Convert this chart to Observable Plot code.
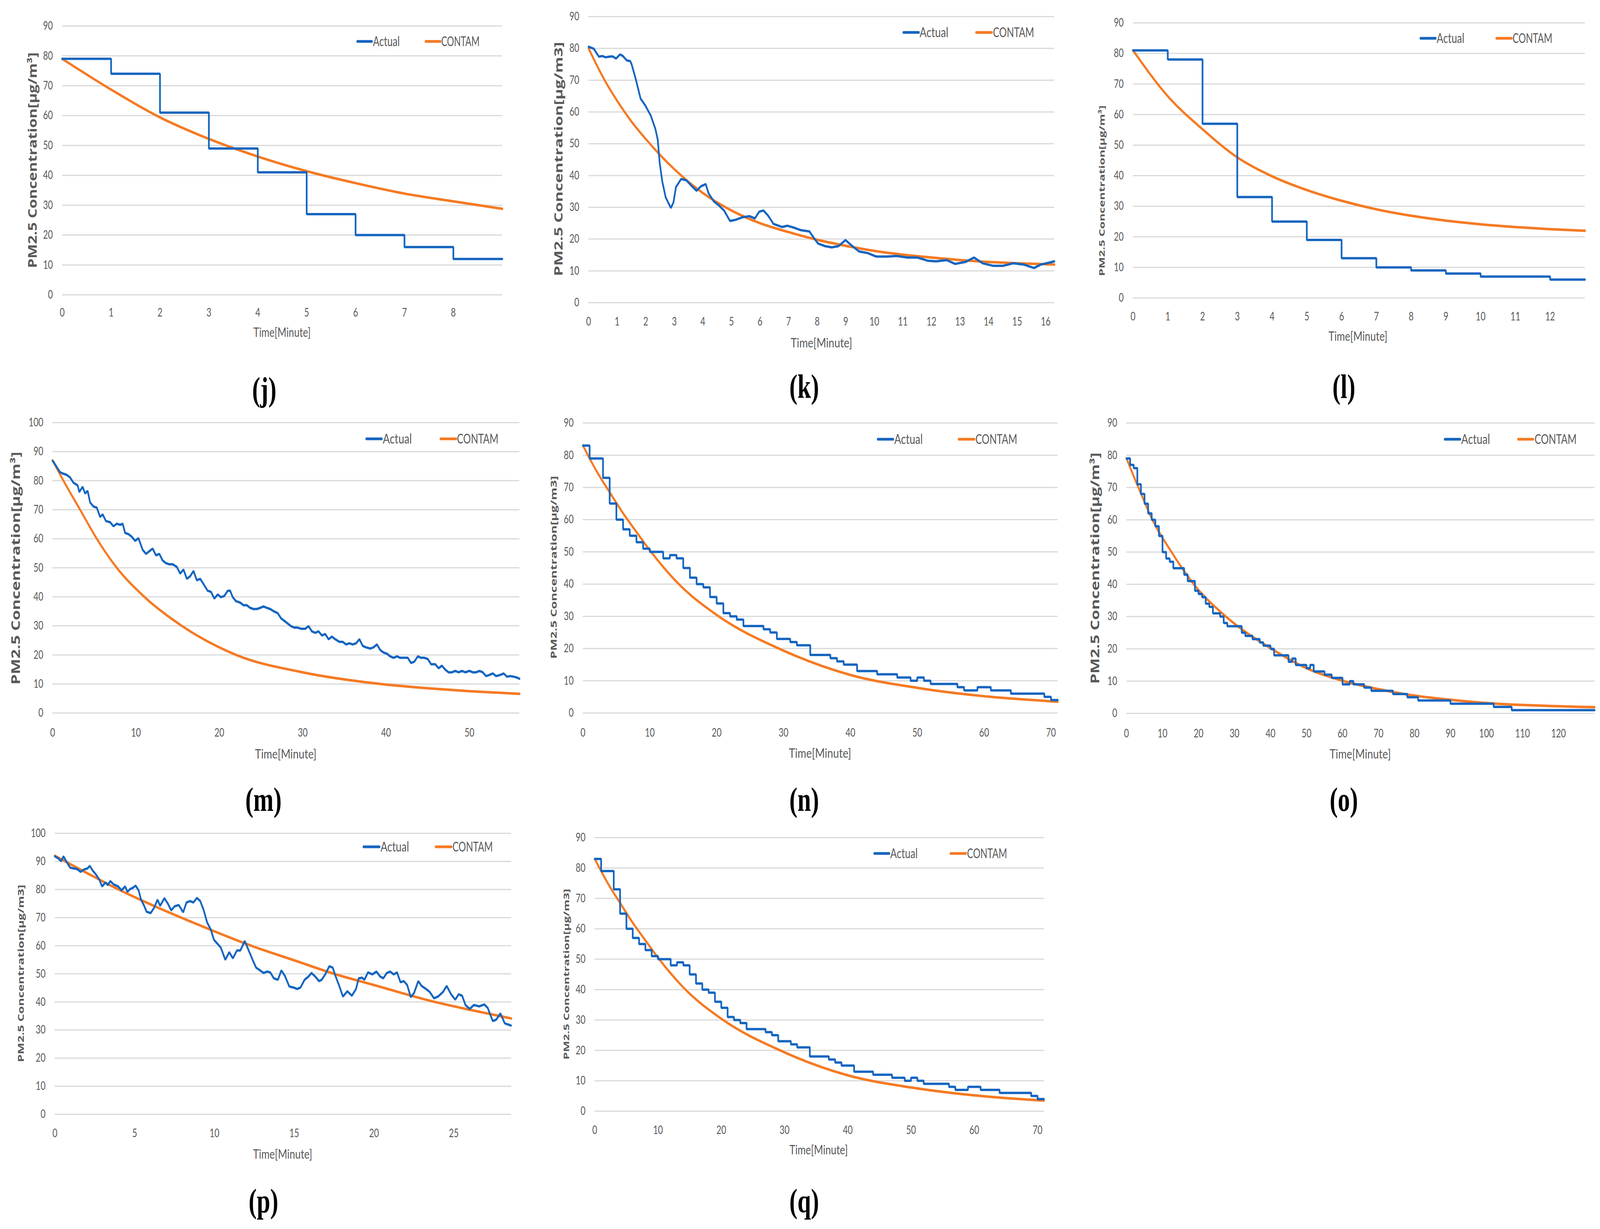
<!DOCTYPE html>
<html>
<head>
<meta charset="utf-8">
<script src="https://cdn.jsdelivr.net/npm/d3@7"></script>
<script src="https://cdn.jsdelivr.net/npm/@observablehq/plot@0.6"></script>
<style>
  html, body { margin: 0; padding: 0; background: #ffffff; overflow: hidden; }
  #page { position: relative; width: 5672px; height: 3145px; overflow: hidden; background: #ffffff; transform-origin: 0 0; }
  #page > svg.plot { position: absolute; }
  #overlay { position: absolute; left: 0; top: 0; pointer-events: none; }
</style>
</head>
<body>
<div id="page"></div>
<script>
// ---------------- DATA ----------------
const seriesNames = ["Actual", "CONTAM"];
const xTitle = "Time[Minute]";
const yTitleSup = "PM2.5 Concentration[μg/m³]";
const yTitlePlain = "PM2.5 Concentration[μg/m3]";
const panelLabels = ["(j)", "(k)", "(l)", "(m)", "(n)", "(o)", "(p)", "(q)"];

const yTicks90 = [0, 10, 20, 30, 40, 50, 60, 70, 80, 90];
const yTicks100 = [0, 10, 20, 30, 40, 50, 60, 70, 80, 90, 100];
const jXTicks = [0, 1, 2, 3, 4, 5, 6, 7, 8];
const kXTicks = [0, 1, 2, 3, 4, 5, 6, 7, 8, 9, 10, 11, 12, 13, 14, 15, 16];
const lXTicks = [0, 1, 2, 3, 4, 5, 6, 7, 8, 9, 10, 11, 12];
const mXTicks = [0, 10, 20, 30, 40, 50];
const nXTicks = [0, 10, 20, 30, 40, 50, 60, 70];
const oXTicks = [0, 10, 20, 30, 40, 50, 60, 70, 80, 90, 100, 110, 120];
const pXTicks = [0, 5, 10, 15, 20, 25];
const qXTicks = [0, 10, 20, 30, 40, 50, 60, 70];

// (j)
const jActual = [[0,79],[1,74],[2,61],[3,49],[4,41],[5,27],[6,20],[7,16],[8,12],[9,12]];
const jContam = [[0,79],[1,68.7],[2,59.4],[3,52.2],[4,46.3],[5,41.4],[6,37.4],[7,33.9],[8,31.3],[9,28.8]];
// (k)
const kActual = [[0,80.5],[0.18,79.9],[0.36,77.4],[0.48,77.6],[0.6,77.2],[0.72,77.4],[0.84,77.5],[0.96,76.8],[1.1,78.1],[1.2,77.6],[1.34,76.2],[1.46,76.0],[1.51,74.9],[1.65,70.4],[1.82,64.2],[1.98,62.1],[2.18,58.8],[2.34,54.6],[2.42,51.3],[2.49,43.9],[2.58,38.1],[2.7,33.1],[2.88,29.8],[2.97,31.5],[3.06,36.4],[3.24,38.9],[3.42,38.5],[3.6,36.8],[3.78,35.2],[3.93,36.6],[4.1,37.3],[4.2,34.4],[4.38,31.9],[4.56,30.6],[4.74,29.0],[4.95,25.7],[5.16,26.1],[5.4,26.9],[5.64,27.2],[5.82,26.5],[5.97,28.6],[6.12,29.0],[6.29,27.3],[6.47,24.8],[6.77,23.8],[6.95,24.2],[7.19,23.6],[7.43,22.8],[7.73,22.4],[7.89,20.3],[8.03,18.6],[8.27,17.8],[8.51,17.4],[8.75,17.8],[8.99,19.7],[9.23,17.8],[9.47,16.1],[9.77,15.6],[10.07,14.5],[10.43,14.5],[10.79,14.7],[11.15,14.2],[11.51,14.2],[11.87,13.2],[12.17,13.0],[12.53,13.4],[12.83,12.2],[13.19,12.8],[13.49,14.2],[13.79,12.4],[14.15,11.6],[14.51,11.6],[14.87,12.4],[15.23,12.0],[15.59,10.9],[15.83,12.0],[16.13,12.6],[16.3,13.0]];
const kContam = [[0,80],[0.5,71],[1,63.5],[1.5,57],[2,51.5],[2.5,46.5],[3,42],[3.5,38],[4,34.5],[5,29],[6,25],[7,22.2],[8,19.8],[9,17.9],[10,16.3],[11,15.1],[12,14.2],[13,13.4],[14,12.8],[15,12.4],[16.3,12]];
// (l)
const lActual = [[0,81],[1,78],[2,57],[3,33],[4,25],[5,19],[6,13],[7,10],[8,9],[9,8],[10,7],[12,6],[13,6]];
const lContam = [[0,81],[1,66],[2,55.2],[3,46],[4,39.8],[5,35.3],[6,31.8],[7,29],[8,26.9],[9,25.3],[10,24.1],[11,23.2],[12,22.5],[13,22]];
// (m)
const mActual = [[0,86.8],[0.1,86.5],[0.5,84.7],[0.9,82.9],[1.3,82.4],[1.7,82.0],[2.1,81.1],[2.5,79.3],[3.0,78.4],[3.2,76.1],[3.6,77.9],[3.9,75.6],[4.2,76.5],[4.5,72.5],[4.9,71.1],[5.3,70.7],[5.7,67.5],[6.0,68.4],[6.4,66.1],[6.9,65.7],[7.3,64.3],[7.7,65.2],[8.1,64.8],[8.4,65.2],[8.7,62.0],[9.1,61.6],[9.5,60.7],[9.9,59.3],[10.3,60.2],[10.8,56.2],[11.2,54.8],[11.6,55.7],[12.0,56.6],[12.4,54.3],[12.8,54.8],[13.2,52.5],[13.6,51.6],[14.0,51.2],[14.4,51.2],[14.9,50.3],[15.3,48.0],[15.7,49.4],[16.1,46.2],[16.5,47.1],[16.9,48.9],[17.3,45.7],[17.7,46.2],[18.1,44.4],[18.6,42.1],[19.0,41.7],[19.4,39.4],[19.8,40.8],[20.2,39.9],[20.6,40.3],[21.0,42.1],[21.3,42.1],[21.6,39.9],[22.0,38.5],[22.5,38.0],[22.9,37.1],[23.3,37.1],[23.7,36.2],[24.1,35.8],[24.5,35.8],[24.9,36.2],[25.3,36.7],[25.7,36.2],[26.1,35.8],[26.6,34.9],[27.0,34.4],[27.4,32.6],[27.8,31.7],[28.2,30.8],[28.6,29.9],[29.0,29.4],[29.4,29.4],[29.8,29.0],[30.3,29.0],[30.7,29.9],[31.1,28.1],[31.5,27.6],[31.9,28.1],[32.3,26.7],[32.7,27.2],[33.1,25.4],[33.5,26.3],[33.9,25.4],[34.4,24.5],[34.8,24.5],[35.2,23.6],[35.6,24.0],[36.0,23.6],[36.4,24.0],[36.8,25.4],[37.2,23.1],[37.6,22.6],[38.1,22.2],[38.5,22.6],[38.9,23.6],[39.3,21.7],[39.7,20.8],[40.1,20.4],[40.5,19.5],[40.9,19.0],[41.3,19.5],[41.7,19.0],[42.2,19.0],[42.6,19.0],[43.0,17.2],[43.4,17.7],[43.8,19.5],[44.2,19.0],[44.6,19.0],[45.0,18.6],[45.4,16.8],[45.9,16.8],[46.3,15.4],[46.7,16.3],[47.1,14.9],[47.5,14.0],[47.9,14.0],[48.3,14.5],[48.7,14.0],[49.1,14.5],[49.5,14.0],[50.0,14.5],[50.4,14.0],[50.8,14.0],[51.2,14.5],[51.6,14.0],[52.0,12.7],[52.4,13.1],[52.8,13.6],[53.2,12.7],[53.7,13.1],[54.1,13.6],[54.5,12.5],[54.9,12.7],[55.3,12.5],[55.7,12.2],[56.0,11.8]];
const mContam = [[0,87],[1.3,80],[3.3,70],[5.3,60],[7.7,50],[11,40],[15.5,30],[22,20],[30,14],[39.3,10],[45,8.5],[50,7.5],[56,6.6]];
// (n)
const nActual = [[0,83],[1,79],[3,73],[4,65],[5,60],[6,57],[7,55],[8,53],[9,51],[10,50],[12,48],[13,49],[14,48],[15,45],[16,42],[17,40],[18,39],[19,36],[20,34],[21,31],[22,30],[23,29],[24,27],[27,26],[28,25],[29,23],[31,22],[32,21],[34,18],[37,17],[38,16],[39,15],[41,13],[44,12],[47,11],[49,10],[50,11],[51,10],[52,9],[56,8],[57,7],[59,8],[61,7],[64,6],[69,5],[70,4],[71,4]];
const nContam = [[0,83],[1,79],[2,75.2],[4,68.5],[6,62],[8,56.2],[10,50.5],[14.1,40.5],[20.3,30],[29.3,20],[40,11.8],[50,7.8],[60,5.2],[71,3.5]];
// (o)
const oActual = [[0,79],[1,77],[2,76],[3,71],[4,68],[5,65],[6,62],[7,60],[8,58],[9,55],[10,50],[11,48],[12,47],[13,45],[16,43],[17,41],[19,38],[20,37],[21,36],[22,34],[23,33],[24,31],[26,30],[27,28],[28,27],[32,25],[33,24],[35,23],[37,22],[38,21],[40,20],[41,18],[45,16],[46,17],[47,15],[50,14],[51,15],[52,13],[55,12],[57,11],[60,9],[62,10],[63,9],[66,8],[68,7],[74,6],[78,5],[81,4],[90,3],[102,2],[107,1],[130,1]];
const oContam = [[0,79],[3.3,70],[7.2,60],[12.5,50],[18.7,40],[27.6,30],[40.3,20],[50,14],[60.4,10],[70,7.5],[80,5.5],[90,4.2],[100,3.2],[110,2.6],[120,2.2],[130,1.9]];
// (p)
const pActual = [[0,91.8],[0.21,91.1],[0.39,90.1],[0.54,91.8],[0.75,89.7],[0.96,87.8],[1.18,87.5],[1.39,87.3],[1.61,86.3],[1.82,87.1],[2.04,87.5],[2.19,88.4],[2.36,86.8],[2.57,85.4],[2.79,83.5],[2.96,81.1],[3.17,82.5],[3.32,81.6],[3.47,83.0],[3.69,81.8],[3.97,81.1],[4.18,79.7],[4.4,81.1],[4.55,79.2],[4.72,80.2],[4.89,80.6],[5.06,81.4],[5.25,79.7],[5.4,76.4],[5.57,74.5],[5.75,72.1],[6.0,71.6],[6.22,73.5],[6.43,76.4],[6.6,74.2],[6.86,76.9],[7.08,75.0],[7.29,72.6],[7.5,74.0],[7.76,74.5],[8.04,71.9],[8.25,75.4],[8.47,75.9],[8.68,75.4],[8.9,77.0],[9.11,75.9],[9.33,72.6],[9.54,68.3],[9.76,65.9],[9.97,62.1],[10.19,60.7],[10.4,59.3],[10.68,55.0],[10.93,57.7],[11.15,55.5],[11.41,58.3],[11.62,58.3],[11.9,61.7],[12.11,58.8],[12.39,55.0],[12.61,52.2],[12.86,51.2],[13.08,50.3],[13.29,50.8],[13.5,50.5],[13.72,48.4],[13.98,47.9],[14.19,51.2],[14.41,49.3],[14.69,45.5],[14.97,45.1],[15.18,44.6],[15.39,45.1],[15.65,47.9],[15.87,48.9],[16.08,50.3],[16.34,48.9],[16.55,47.4],[16.72,47.9],[16.94,49.8],[17.2,52.7],[17.41,52.2],[17.58,49.3],[17.8,46.0],[18.05,41.9],[18.33,43.8],[18.61,42.2],[18.87,44.6],[19.04,48.4],[19.25,48.6],[19.4,47.9],[19.62,50.5],[19.9,49.8],[20.15,50.8],[20.37,49.1],[20.58,48.4],[20.8,50.3],[21.01,50.8],[21.23,49.8],[21.44,50.5],[21.66,47.0],[21.87,47.4],[22.08,46.0],[22.3,41.7],[22.51,43.2],[22.77,47.4],[22.98,45.7],[23.26,44.6],[23.48,43.6],[23.76,41.3],[24.01,41.9],[24.33,43.6],[24.55,45.7],[24.83,42.7],[25.09,40.8],[25.3,42.7],[25.52,42.2],[25.73,38.9],[25.99,37.5],[26.26,38.9],[26.59,38.4],[26.91,39.1],[27.12,37.9],[27.44,33.2],[27.66,33.7],[27.92,35.9],[28.19,32.4],[28.58,31.6]];
const pContam = [[0,92],[2,85.9],[4,80],[6,74.7],[8,69.8],[10,65.1],[12.3,60],[15,54.8],[17.5,50],[20,46],[23.8,40],[26,37.2],[28.6,34.1]];
// (q)
const qActual = [[0,83],[1,79],[3,73],[4,65],[5,60],[6,57],[7,55],[8,53],[9,51],[10,50],[12,48],[13,49],[14,48],[15,45],[16,42],[17,40],[18,39],[19,36],[20,34],[21,31],[22,30],[23,29],[24,27],[27,26],[28,25],[29,23],[31,22],[32,21],[34,18],[37,17],[38,16],[39,15],[41,13],[44,12],[47,11],[49,10],[50,11],[51,10],[52,9],[56,8],[57,7],[59,8],[61,7],[64,6],[69,5],[70,4],[71,4]];
const qContam = [[0,83],[1,79],[2,75.2],[4,68.5],[6,62],[8,56.2],[10,50.5],[14.1,40.5],[20.3,30],[29.3,20],[40,11.8],[50,7.8],[60,5.2],[71,3.5]];

// ---------------- LAYOUT / STYLE ----------------
const BLUE = "#1565c0";
const ORANGE = "#f57a23";
const TEXT = "#595959";
const GRID = "#d9d9d9";

const panels = [
  {lab: 0, left: 220,  right: 1780, top: 66,   bottom: 754,  xMax: 9,    yMax: 90,  xTicks: jXTicks, yTicks: yTicks90,  actual: jActual, contam: jContam, step: true,  xPad: 34,
   yT: {x: 116,  y: 410,  len: 552, fs: 41, text: yTitleSup},   xT: {x: 1000, y: 851,  len: 203},
   leg: {y: 106,  a: [1267, 1318, 1322, 95],  c: [1509, 1561, 1564, 136]}, labPos: [937, 1003]},
  {lab: 1, left: 2086, right: 3737, top: 42,   bottom: 774,  xMax: 16.3, yMax: 90,  xTicks: kXTicks, yTicks: yTicks90,  actual: kActual, contam: kContam, step: false, xPad: 37,
   yT: {x: 1980, y: 407,  len: 599, fs: 40, text: yTitlePlain}, xT: {x: 2912, y: 878,  len: 218},
   leg: {y: 83,   a: [3203, 3257, 3260, 102], c: [3461, 3516, 3520, 146]}, labPos: [2851, 996]},
  {lab: 2, left: 4016, right: 5618, top: 58,   bottom: 762,  xMax: 13,   yMax: 90,  xTicks: lXTicks, yTicks: yTicks90,  actual: lActual, contam: lContam, step: true,  xPad: 36,
   yT: {x: 3906, y: 488,  len: 437, fs: 28, text: yTitleSup},   xT: {x: 4814, y: 861,  len: 209},
   leg: {y: 98,   a: [5036, 5089, 5093, 98],  c: [5305, 5359, 5362, 141]}, labPos: [4764, 996]},
  {lab: 3, left: 186,  right: 1841, top: 1081, bottom: 1824, xMax: 56,   yMax: 100, xTicks: mXTicks, yTicks: yTicks100, actual: mActual, contam: mContam, step: false, xPad: 39,
   yT: {x: 55,   y: 1454, len: 596, fs: 42, text: yTitleSup},   xT: {x: 1013, y: 1930, len: 218},
   leg: {y: 1123, a: [1299, 1353, 1357, 103], c: [1562, 1617, 1620, 147]}, labPos: [934, 2053]},
  {lab: 4, left: 2066, right: 3749, top: 1082, bottom: 1824, xMax: 71,   yMax: 90,  xTicks: nXTicks, yTicks: yTicks90,  actual: nActual, contam: nContam, step: true,  xPad: 39,
   yT: {x: 1963, y: 1452, len: 468, fs: 30, text: yTitlePlain}, xT: {x: 2907, y: 1928, len: 221},
   leg: {y: 1124, a: [3112, 3166, 3170, 101], c: [3399, 3454, 3458, 148]}, labPos: [2851, 2053]},
  {lab: 5, left: 3993, right: 5652, top: 1082, bottom: 1825, xMax: 130,  yMax: 90,  xTicks: oXTicks, yTicks: yTicks90,  actual: oActual, contam: oContam, step: true,  xPad: 40,
   yT: {x: 3882, y: 1454, len: 592, fs: 41, text: yTitleSup},   xT: {x: 4822, y: 1930, len: 217},
   leg: {y: 1124, a: [5122, 5176, 5180, 102], c: [5382, 5435, 5440, 149]}, labPos: [4764, 2053]},
  {lab: 6, left: 194,  right: 1812, top: 2132, bottom: 2851, xMax: 28.6, yMax: 100, xTicks: pXTicks, yTicks: yTicks100, actual: pActual, contam: pContam, step: false, xPad: 37,
   yT: {x: 73,   y: 2491, len: 454, fs: 30, text: yTitlePlain}, xT: {x: 1002, y: 2954, len: 210},
   leg: {y: 2167, a: [1289, 1345, 1349, 101], c: [1545, 1600, 1604, 143]}, labPos: [934, 3080]},
  {lab: 7, left: 2108, right: 3700, top: 2143, bottom: 2843, xMax: 71,   yMax: 90,  xTicks: qXTicks, yTicks: yTicks90,  actual: qActual, contam: qContam, step: true,  xPad: 37,
   yT: {x: 2007, y: 2493, len: 437, fs: 28, text: yTitlePlain}, xT: {x: 2902, y: 2943, len: 207},
   leg: {y: 2184, a: [3100, 3152, 3156, 97],  c: [3370, 3424, 3428, 142]}, labPos: [2851, 3080]}
];

const ML = 110, MR = 12, MT = 12, MB = 90;
const page = document.getElementById("page");

// fill whatever CSS viewport the window actually provides with the 5672x3145 design
const sx = window.innerWidth / 5672, sy = window.innerHeight / 3145;
if (isFinite(sx) && isFinite(sy) && sx > 0 && sy > 0 && (Math.abs(sx - 1) > 0.002 || Math.abs(sy - 1) > 0.002)) {
  page.style.transform = `scale(${sx}, ${sy})`;
}

const toRows = arr => arr.map(([t, v]) => ({t, v}));
const fmt = d => String(d);

for (const p of panels) {
  const w = p.right - p.left + ML + MR;
  const h = p.bottom - p.top + MT + MB;
  const chart = Plot.plot({
    width: w,
    height: h,
    marginLeft: ML, marginRight: MR, marginTop: MT, marginBottom: MB,
    x: {domain: [0, p.xMax]},
    y: {domain: [0, p.yMax]},
    style: {fontFamily: "Lato, 'Liberation Sans', sans-serif", fontSize: "30px", color: TEXT, background: "transparent", overflow: "visible"},
    marks: [
      Plot.ruleY(p.yTicks, {stroke: GRID, strokeWidth: 3}),
      Plot.axisY(p.yTicks, {tickSize: 0, tickPadding: 33, label: null, fontSize: 30, tickFormat: fmt}),
      Plot.axisX(p.xTicks, {tickSize: 0, tickPadding: p.xPad, label: null, fontSize: 30, tickFormat: fmt}),
      Plot.line(toRows(p.contam), {x: "t", y: "v", stroke: ORANGE, strokeWidth: 6.5, curve: "monotone-x"}),
      Plot.line(toRows(p.actual), {x: "t", y: "v", stroke: BLUE, strokeWidth: 6, curve: p.step ? "step-after" : "linear", strokeLinejoin: "miter"})
    ]
  });
  chart.classList.add("plot");
  chart.style.position = "absolute";
  chart.style.left = (p.left - ML) + "px";
  chart.style.top = (p.top - MT) + "px";
  page.appendChild(chart);
}

// ---------------- TITLES, LEGENDS, PANEL LABELS ----------------
const overlay = d3.select(page).append("svg")
  .attr("id", "overlay")
  .attr("width", 5672).attr("height", 3145);

for (const p of panels) {
  overlay.append("text")
    .attr("transform", `translate(${p.yT.x},${p.yT.y}) rotate(-90)`)
    .attr("text-anchor", "middle")
    .attr("dy", "0.36em")
    .attr("font-family", "'Open Sans', 'DejaVu Sans', sans-serif")
    .attr("font-weight", 700)
    .attr("font-size", p.yT.fs)
    .attr("fill", TEXT)
    .attr("textLength", p.yT.len)
    .attr("lengthAdjust", "spacingAndGlyphs")
    .text(p.yT.text);

  overlay.append("text")
    .attr("x", p.xT.x).attr("y", p.xT.y + 11)
    .attr("text-anchor", "middle")
    .attr("font-family", "Lato, 'Liberation Sans', sans-serif")
    .attr("font-size", 33)
    .attr("fill", TEXT)
    .attr("textLength", p.xT.len)
    .attr("lengthAdjust", "spacingAndGlyphs")
    .text(xTitle);

  const items = [[p.leg.a, BLUE, seriesNames[0]], [p.leg.c, ORANGE, seriesNames[1]]];
  for (const [spec, color, name] of items) {
    overlay.append("line")
      .attr("x1", spec[0]).attr("x2", spec[1])
      .attr("y1", p.leg.y).attr("y2", p.leg.y)
      .attr("stroke", color).attr("stroke-width", 7).attr("stroke-linecap", "round");
    overlay.append("text")
      .attr("x", spec[2]).attr("y", p.leg.y + 12)
      .attr("font-family", "Lato, 'Liberation Sans', sans-serif")
      .attr("font-size", 34)
      .attr("fill", TEXT)
      .attr("textLength", spec[3])
      .attr("lengthAdjust", "spacingAndGlyphs")
      .text(name);
  }

  overlay.append("text")
    .attr("x", p.labPos[0]).attr("y", p.labPos[1] + 22)
    .attr("text-anchor", "middle")
    .attr("font-family", "'Liberation Serif', 'DejaVu Serif', serif")
    .attr("font-weight", 700)
    .attr("font-size", 86)
    .attr("fill", "#000000")
    .text(panelLabels[p.lab]);
}
</script>
</body>
</html>
